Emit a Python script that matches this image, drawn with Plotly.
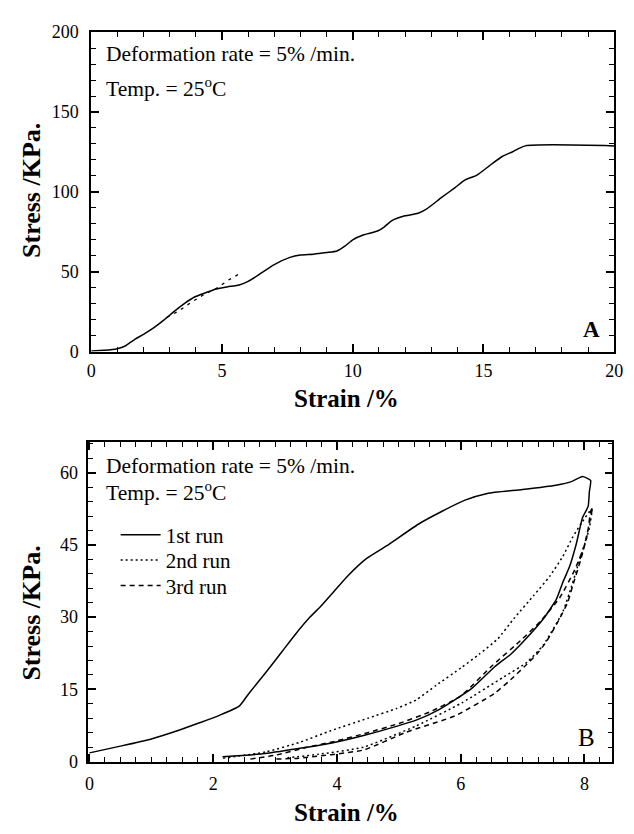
import plotly.graph_objects as go

# ---------------- Panel A data (strain %, stress KPa) ----------------
a_strain = [0, 0.5, 1.0, 1.3, 1.67, 2.0, 2.4, 2.8, 3.2, 3.6, 3.95, 4.4, 4.78, 5.2, 5.66, 6.0, 6.4, 7.0, 7.6, 8.0,
            8.5, 9.0, 9.4, 9.7, 10.0, 10.4, 10.95, 11.2, 11.5, 12.0, 12.5, 12.8, 13.4, 13.9, 14.3, 14.75, 15.2,
            15.7, 16.1, 16.6, 20.0]
a_stress = [0.4, 0.8, 1.8, 3.5, 7.7, 10.8, 15.0, 20.0, 25.5, 30.5, 34.2, 37.0, 39.2, 40.5, 41.7, 44.0, 48.0, 54.5,
            59.0, 60.5, 61.0, 62.0, 63.0, 66.0, 70.0, 73.0, 75.5, 78.0, 82.0, 85.0, 86.6, 89.0, 96.5, 102.5, 107.5,
            110.5, 116.0, 122.0, 125.0, 128.8, 128.8]
a2_strain = [2.9, 3.35, 3.8, 4.3, 4.8, 5.25, 5.75]
a2_stress = [21.4, 25.5, 30.6, 35.6, 39.7, 44.8, 49.5]

# ---------------- Panel B data ----------------
run1_strain = [0, 0.5, 1.0, 1.42, 1.79, 2.1, 2.42, 2.58, 2.85, 3.11, 3.32, 3.55, 3.75, 3.95, 4.17, 4.48, 4.8,
               5.34, 5.7, 6.07, 6.43, 7.0, 7.54, 7.8, 7.97, 8.1, 8.08,
               8.06, 7.97, 7.87, 7.76, 7.65, 7.55, 7.34, 7.07, 6.81, 6.55, 6.18, 5.65, 5.28, 4.96, 4.43, 3.9, 3.38,
               2.8, 2.15]
run1_stress = [1.8, 3.2, 4.7, 6.4, 8.1, 9.6, 11.5, 14.2, 18.5, 22.8, 26.3, 29.8, 32.4, 35.3, 38.5, 42.2, 44.8,
               49.5, 52.0, 54.3, 55.7, 56.5, 57.4, 58.2, 59.2, 58.4, 56.1,
               53.0, 50.7, 45.3, 40.5, 37.2, 33.8, 29.7, 25.7, 22.3, 19.7, 15.2, 10.8, 8.6, 7.3, 5.4, 3.8, 2.7,
               1.6, 1.0]
run2_strain = [2.16, 2.85, 3.4, 3.9, 4.5, 4.96, 5.28, 5.6, 6.02, 6.3, 6.6, 6.86, 7.18, 7.44, 7.65, 7.81, 7.95,
               8.12, 8.08, 8.0, 7.89, 7.76, 7.65, 7.34, 7.07, 6.7, 6.02, 5.28, 4.43, 3.7, 3.2]
run2_stress = [0.7, 2.0, 4.0, 6.4, 9.0, 11.0, 12.8, 15.8, 19.6, 22.3, 25.5, 29.7, 34.5, 38.5, 42.6, 46.6, 49.5,
               52.5, 48.5, 45.0, 40.5, 35.1, 31.1, 24.3, 20.6, 17.6, 12.2, 7.4, 3.0, 1.5, 0.8]
run3_strain = [2.6, 3.0, 3.5, 4.0, 4.5, 5.0, 5.5, 6.0, 6.5, 7.0, 7.3, 7.6, 7.85, 8.0, 8.13,
               8.1, 8.05, 7.94, 7.81, 7.73, 7.6, 7.39, 7.23, 7.02, 6.86, 6.55, 5.91, 5.12, 4.43, 3.38, 3.0]
run3_stress = [0.5, 1.3, 2.9, 4.3, 6.0, 7.9, 10.3, 13.6, 19.8, 25.5, 29.3, 34.0, 40.0, 45.0, 52.8,
               52.0, 47.3, 41.9, 36.5, 33.1, 29.7, 25.0, 22.3, 19.6, 17.6, 14.2, 9.5, 6.1, 2.4, 0.7, 0.5]
run_names = ["1st run", "2nd run", "3rd run"]

W, H = 634, 834
SERIF = "Liberation Serif, Times New Roman, serif"

def px_x(p):
    return p / W

def px_y(p):
    return 1 - p / H

fig = go.Figure()
fig.add_trace(go.Scatter(x=a_strain, y=a_stress, mode="lines",
                         line=dict(color="black", width=1.5, shape="spline", smoothing=0.6),
                         xaxis="x", yaxis="y", showlegend=False))
fig.add_trace(go.Scatter(x=a2_strain, y=a2_stress, mode="lines", line=dict(color="black", width=1.3, dash="3px,5px"),
                         xaxis="x", yaxis="y", showlegend=False))
fig.add_trace(go.Scatter(x=run1_strain, y=run1_stress, mode="lines", name=run_names[0], legend="legend",
                         line=dict(color="black", width=1.5, shape="spline", smoothing=0.5), xaxis="x2", yaxis="y2"))
fig.add_trace(go.Scatter(x=run2_strain, y=run2_stress, mode="lines", name=run_names[1], legend="legend2",
                         line=dict(color="black", width=1.5, dash="2px,3px", shape="spline", smoothing=0.5),
                         xaxis="x2", yaxis="y2"))
fig.add_trace(go.Scatter(x=run3_strain, y=run3_stress, mode="lines", name=run_names[2], legend="legend3",
                         line=dict(color="black", width=1.5, dash="5px,4px", shape="spline", smoothing=0.5),
                         xaxis="x2", yaxis="y2"))

axis_common = dict(showline=True, linewidth=1.5, linecolor="black", mirror="ticks", ticks="inside",
                   ticklen=8, tickwidth=1.5, tickcolor="black", showgrid=False, zeroline=False,
                   tickfont=dict(family=SERIF, size=18, color="black"))
minor_common = dict(ticks="inside", ticklen=5, tickwidth=1.2, tickcolor="black")

legend_common = dict(xanchor="left", yanchor="middle", bgcolor="rgba(0,0,0,0)",
                     font=dict(family=SERIF, size=21, color="black"), itemwidth=40)

fig.update_layout(
    width=W, height=H, margin=dict(l=0, r=0, t=0, b=0),
    paper_bgcolor="white", plot_bgcolor="white",
    font=dict(family=SERIF, color="black"),
    xaxis=dict(domain=[px_x(89), px_x(623)], anchor="y", range=[0, 20], tickvals=[0, 5, 10, 15, 20],
               ticklabelstandoff=2, minor=dict(dtick=1, **minor_common), **axis_common),
    yaxis=dict(domain=[px_y(350), px_y(22.7)], anchor="x", range=[0, 200], tickvals=[0, 50, 100, 150, 200],
               ticklabelstandoff=7, minor=dict(dtick=10, **minor_common), **axis_common),
    xaxis2=dict(domain=[px_x(86), px_x(621)], anchor="y2", range=[-0.02, 8.45], tickvals=[0, 2, 4, 6, 8],
                ticklabelstandoff=5, minor=dict(dtick=0.25, **minor_common), **axis_common),
    yaxis2=dict(domain=[px_y(770), px_y(443)], anchor="x2", range=[0, 66.3], tickvals=[0, 15, 30, 45, 60],
                ticklabelstandoff=5, minor=dict(dtick=3, **minor_common), **axis_common),
    legend=dict(x=px_x(114), y=px_y(538), **legend_common),
    legend2=dict(x=px_x(114), y=px_y(564), **legend_common),
    legend3=dict(x=px_x(114), y=px_y(590), **legend_common),
    showlegend=True,
)

annots = [
    dict(text="<b>Strain /%</b>", x=px_x(350), y=px_y(398), size=25),
    dict(text="<b>Strain /%</b>", x=px_x(350), y=px_y(822), size=25),
    dict(text="<b>Stress /KPa.</b>", x=px_x(28), y=px_y(185), size=26, angle=-90),
    dict(text="<b>Stress /KPa.</b>", x=px_x(28), y=px_y(618), size=26, angle=-90),
    dict(text="<b>A</b>", x=px_x(600), y=px_y(327), size=23),
    dict(text="B", x=px_x(595), y=px_y(745), size=25),
]
for a in annots:
    fig.add_annotation(text=a["text"], x=a["x"], y=a["y"], xref="paper", yref="paper",
                       xanchor="center", yanchor="middle", showarrow=False, textangle=a.get("angle", 0),
                       font=dict(family=SERIF, size=a["size"], color="black"))

info = [("Deformation rate = 5% /min.", 45), ("Temp. = 25<sup>o</sup>C", 79),
        ("Deformation rate = 5% /min.", 467), ("Temp. = 25<sup>o</sup>C", 493)]
for t, yy in info:
    fig.add_annotation(text=t, x=px_x(102), y=px_y(yy), xref="paper", yref="paper", xanchor="left",
                       yanchor="middle", showarrow=False, font=dict(family=SERIF, size=21.5, color="black"))

# remove the browser's default 8px body margin so the 634x834 figure fills the window exactly
fig.write_html("out.html", config={"displayModeBar": False},
               post_script="document.body.style.margin='0';")
